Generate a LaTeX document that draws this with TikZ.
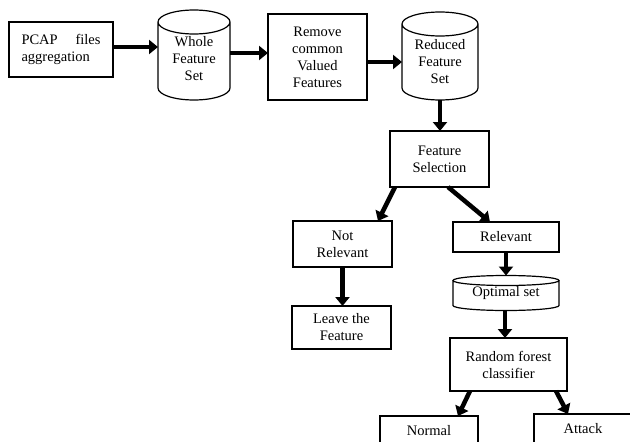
\documentclass[tikz,border=0pt]{standalone}
\usepackage{fontspec}
\setmainfont{Liberation Serif}
\usepackage{tikz}
\usetikzlibrary{arrows.meta,calc}

\newcommand{\dbshape}[2]{%
\draw [line width=1.2pt] let \p1=(#1.north west), \p2=(#1.south east), \n1={(\x2-\x1)/2} in
(\x1+\n1,\y1-#2) ellipse [x radius=\n1, y radius=#2]
(\x1,\y1-#2) -- (\x1,\y2+#2) arc [start angle=180, end angle=360, x radius=\n1, y radius=#2] -- (\x2,\y1-#2);}
\newcommand{\dbtext}[2]{\raisebox{#1}[0pt][0pt]{\begin{tabular}{@{}c@{}}#2\end{tabular}}}

\begin{document}
\begin{tikzpicture}[x=1pt,y=-1pt,
font=\fontsize{14.5}{17}\selectfont,
box/.style={draw,line width=1.2pt,align=center,inner sep=2pt,outer sep=0pt},
db/.style={inner sep=0pt,outer sep=0pt},
fat/.style={line width=4.5pt,-{Triangle[length=9pt,width=14pt]}}]
\useasboundingbox (0,0) rectangle (630,442);

\node [box,minimum width=104,minimum height=55,align=left,text width=79] (pcap) at (61,49.5) {PCAP\hfill files\\aggregation};
\node [db,minimum width=72,minimum height=90] (whole) at (194,55) {\dbtext{-8.5pt}{Whole\\Feature\\Set}};
\node [db,minimum width=76,minimum height=88] (reduced) at (440,56) {\dbtext{-10.5pt}{Reduced\\Feature\\Set}};
\node [box,minimum width=99,minimum height=86] (remove) at (317.5,57) {Remove\\common\\Valued\\Features};
\node [box,minimum width=99,minimum height=56] (featsel) at (439.5,159) {Feature\\Selection};
\node [box,minimum width=99,minimum height=46] (notrel) at (342.5,244) {Not\\Relevant};
\node [box,minimum width=99,minimum height=43] (leave) at (341.5,327.5) {Leave the\\Feature};
\node [box,minimum width=106,minimum height=30] (relevant) at (506,237) {Relevant};
\node [db,minimum width=106,minimum height=35] (optimal) at (506,293) {Optimal set};
\node [box,minimum width=117,minimum height=53] (rf) at (508.5,364.5) {Random forest\\classifier};
\node [box,minimum width=98,minimum height=30] (normal) at (429,431) {Normal};
\node [box,minimum width=98,minimum height=30] (attack) at (583,429) {Attack};

\dbshape{whole}{12pt}
\dbshape{reduced}{12pt}
\dbshape{optimal}{5pt}

\draw [fat] ([yshift=2.5]pcap.east) -- ([yshift=2.5]pcap.east -| whole.west);
\draw [fat] ([yshift=2]whole.east) -- ([yshift=2]whole.east -| remove.west);
\draw [fat] ([yshift=-5]remove.east) -- ([yshift=-5]remove.east -| reduced.west);
\draw [fat] (reduced.south) -- (reduced.south |- featsel.north);
\draw [fat] ([xshift=-44.5]featsel.south) -- ([xshift=35.5]notrel.north);
\draw [fat] ([xshift=8.5]featsel.south) -- ([xshift=-16]relevant.north);
\draw [fat] (notrel.south) -- (notrel.south |- leave.north);
\draw [fat] (relevant.south) -- (relevant.south |- optimal.north);
\draw [fat] ([xshift=-1]optimal.south) -- ([xshift=-1]optimal.south |- rf.north);
\draw [fat] ([xshift=-38.5]rf.south) -- ([xshift=29]normal.north);
\draw [fat] ([xshift=47.5]rf.south) -- ([xshift=-15]attack.north);

\end{tikzpicture}
\end{document}
